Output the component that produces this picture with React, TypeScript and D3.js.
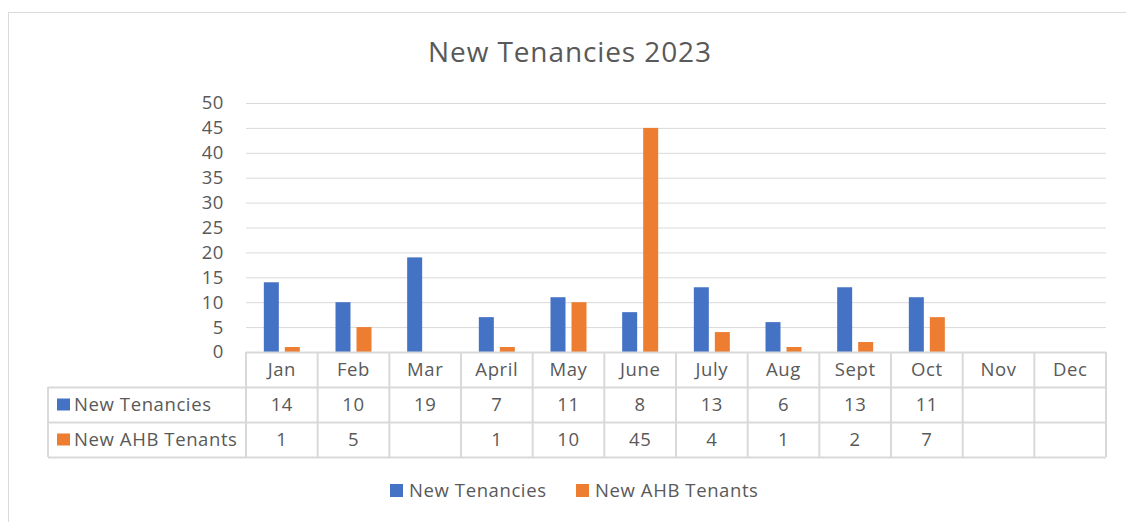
import React, { useEffect, useRef } from "react";
import * as d3 from "d3";

const months = ["Jan", "Feb", "Mar", "April", "May", "June", "July", "Aug", "Sept", "Oct", "Nov", "Dec"];
const seriesNames = ["New Tenancies", "New AHB Tenants"];
const newTenancies = [14, 10, 19, 7, 11, 8, 13, 6, 13, 11, null, null];
const newAhbTenants = [1, 5, null, 1, 10, 45, 4, 1, 2, 7, null, null];
const yTicks = [0, 5, 10, 15, 20, 25, 30, 35, 40, 45, 50];
const colors = ["#4472c4", "#ed7d31"];

const App = () => {
  const ref = useRef<SVGSVGElement>(null);

  useEffect(() => {
    const width = 1126;
    const height = 522;
    const font = "'Open Sans', 'Noto Sans', sans-serif";
    const textColor = "#595959";
    const lineColor = "#d9d9d9";
    const fs = 18.5;
    const ls = 0.6; // 글자 간격으로 폭 맞춤

    const svg = d3.select(ref.current);
    svg.selectAll("*").remove();

    // 차트 외곽선 (오른쪽, 아래는 잘려있음)
    svg
      .append("rect")
      .attr("x", 8.5)
      .attr("y", 12.5)
      .attr("width", width)
      .attr("height", height)
      .attr("fill", "white")
      .attr("stroke", lineColor);

    svg
      .append("text")
      .attr("x", 570)
      .attr("y", 62)
      .attr("text-anchor", "middle")
      .attr("font-family", font)
      .attr("font-size", 28)
      .attr("letter-spacing", 0.9)
      .attr("fill", textColor)
      .text("New Tenancies 2023");

    const x = d3.scaleBand().domain(months).range([246, 1106]);
    const inner = d3
      .scaleBand()
      .domain(seriesNames)
      .range([0, 36])
      .paddingInner(0.286);
    const y = d3.scaleLinear().domain([0, 50]).range([352, 103]);

    // 그리드 + y축
    const yAxis = svg
      .append("g")
      .attr("transform", "translate(246,0)")
      .call(d3.axisLeft(y).tickValues(yTicks).tickSize(-860).tickPadding(22));
    yAxis.select(".domain").remove();
    yAxis.selectAll("line").attr("stroke", lineColor);
    yAxis
      .selectAll("text")
      .attr("font-family", font)
      .attr("font-size", fs)
      .attr("letter-spacing", ls)
      .attr("fill", textColor);

    const series = [newTenancies, newAhbTenants];
    series.forEach((values, si) => {
      svg
        .append("g")
        .selectAll("rect")
        .data(months.map((m, i) => ({ m, v: values[i] })).filter((d) => d.v != null))
        .enter()
        .append("rect")
        .attr("x", (d) => x(d.m)! + x.bandwidth() / 2 - 18 + inner(seriesNames[si])!)
        .attr("y", (d) => y(d.v as number))
        .attr("width", inner.bandwidth())
        .attr("height", (d) => y(0) - y(d.v as number))
        .attr("fill", colors[si]);
    });

    // 데이터 테이블
    const rowTop = [352, 387, 422];
    const rowBottom = 457;
    const table = svg.append("g");
    const rowH = (r: number) => (r < 2 ? rowTop[r + 1] : rowBottom) - rowTop[r];

    // 가로선
    table
      .selectAll("line.h")
      .data([0, 1, 2, 3])
      .enter()
      .append("line")
      .attr("x1", (d) => (d === 0 ? 246 : 48))
      .attr("x2", 1106)
      .attr("y1", (d) => (d < 3 ? rowTop[d] : rowBottom) + 0.5)
      .attr("y2", (d) => (d < 3 ? rowTop[d] : rowBottom) + 0.5)
      .attr("stroke", lineColor)
      .attr("stroke-width", 2);
    // 세로선
    const xs = months.map((m) => x(m)!).concat([1106]);
    table
      .selectAll("line.v")
      .data(xs)
      .enter()
      .append("line")
      .attr("x1", (d) => d)
      .attr("x2", (d) => d)
      .attr("y1", rowTop[0])
      .attr("y2", rowBottom)
      .attr("stroke", lineColor)
      .attr("stroke-width", 2);
    table
      .append("line")
      .attr("x1", 48)
      .attr("x2", 48)
      .attr("y1", rowTop[1])
      .attr("y2", rowBottom)
      .attr("stroke", lineColor)
      .attr("stroke-width", 2);

    // 월 라벨
    table
      .selectAll("text.m")
      .data(months)
      .enter()
      .append("text")
      .attr("x", (d) => x(d)! + x.bandwidth() / 2)
      .attr("y", rowTop[0] + rowH(0) / 2 + 6)
      .attr("text-anchor", "middle")
      .attr("font-family", font)
      .attr("font-size", fs)
      .attr("letter-spacing", ls)
      .attr("fill", textColor)
      .text((d) => d);

    series.forEach((values, si) => {
      const r = si + 1;
      const cy = rowTop[r] + rowH(r) / 2;
      table
        .append("rect")
        .attr("x", 57)
        .attr("y", cy - 6)
        .attr("width", 13)
        .attr("height", 12)
        .attr("fill", colors[si]);
      table
        .append("text")
        .attr("x", 74)
        .attr("y", cy + 6)
        .attr("font-family", font)
        .attr("font-size", fs)
        .attr("letter-spacing", ls)
        .attr("fill", textColor)
        .text(seriesNames[si]);
      table
        .selectAll("text.v" + si)
        .data(months.map((m, i) => ({ m, v: values[i] })).filter((d) => d.v != null))
        .enter()
        .append("text")
        .attr("x", (d) => x(d.m)! + x.bandwidth() / 2)
        .attr("y", cy + 6)
        .attr("text-anchor", "middle")
        .attr("font-family", font)
        .attr("font-size", fs)
        .attr("letter-spacing", ls)
        .attr("fill", textColor)
        .text((d) => String(d.v));
    });

    // 범례
    const legendX = [390, 576];
    const legend = svg.append("g");
    seriesNames.forEach((name, i) => {
      legend
        .append("rect")
        .attr("x", legendX[i])
        .attr("y", 484)
        .attr("width", 13)
        .attr("height", 13)
        .attr("fill", colors[i]);
      legend
        .append("text")
        .attr("x", legendX[i] + 19)
        .attr("y", 497)
        .attr("font-family", font)
        .attr("font-size", fs)
        .attr("letter-spacing", ls)
        .attr("fill", textColor)
        .text(name);
    });
  }, []);

  return (
    <svg
      ref={ref}
      width={1126}
      height={522}
      style={{ position: "absolute", left: 0, top: 0, display: "block" }}
    />
  );
};

export default App;
